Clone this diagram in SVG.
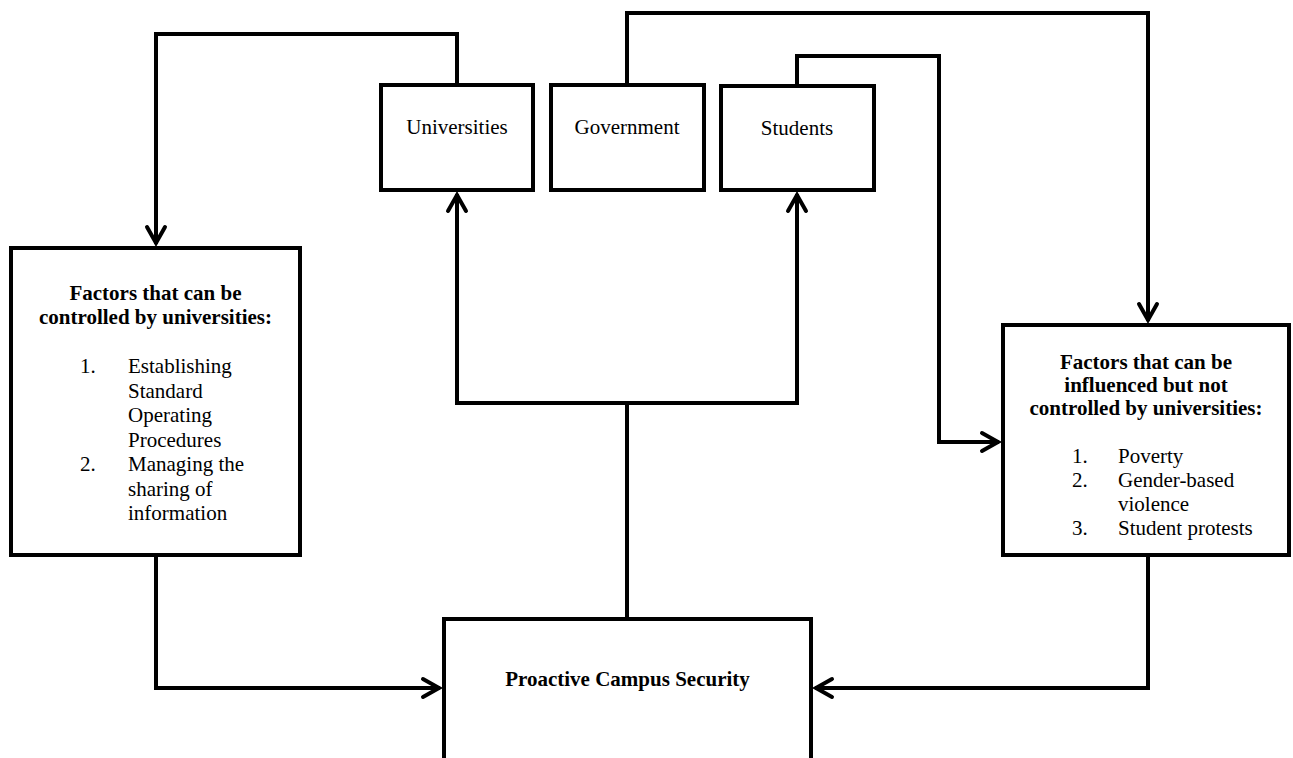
<svg xmlns="http://www.w3.org/2000/svg" width="1293" height="758" viewBox="0 0 1293 758">
<style>
.box{fill:#fff;stroke:#000;stroke-width:4}
.c{fill:none;stroke:#000;stroke-width:4;stroke-linejoin:miter}
.t{font-family:"Liberation Serif","Times New Roman",serif;font-size:21px;fill:#000}
.b{font-weight:bold}
.m{text-anchor:middle}
</style>
<defs>
<marker id="ah" markerUnits="userSpaceOnUse" viewBox="-20 -12 24 24" markerWidth="24" markerHeight="24" refX="0" refY="0" orient="auto">
<path d="M-17,-9 L-1,0 L-17,9" fill="none" stroke="#000" stroke-width="4" stroke-linecap="round"/>
</marker>
</defs>
<rect width="1293" height="758" fill="#fff"/>
<g id="connectors">
<path class="c" d="M457,83 V34 H156 V244" marker-end="url(#ah)"/>
<path class="c" d="M627,83 V13 H1148 V321" marker-end="url(#ah)"/>
<path class="c" d="M797,84 V56 H939 V442 H999" marker-end="url(#ah)"/>
<path class="c" d="M627,617 V403"/>
<path class="c" d="M627,403 H457 V194" marker-end="url(#ah)"/>
<path class="c" d="M627,403 H797 V194" marker-end="url(#ah)"/>
<path class="c" d="M156,557 V688 H440" marker-end="url(#ah)"/>
<path class="c" d="M1148,557 V688 H815" marker-end="url(#ah)"/>
</g>
<g id="universities">
<rect class="box" x="381" y="85" width="152" height="105"/>
<text class="t m" x="457" y="134">Universities</text>
</g>
<g id="government">
<rect class="box" x="551" y="85" width="153" height="105"/>
<text class="t m" x="627" y="134">Government</text>
</g>
<g id="students">
<rect class="box" x="721" y="86" width="153" height="104"/>
<text class="t m" x="797" y="135">Students</text>
</g>
<g id="controlled">
<rect class="box" x="11" y="248" width="289" height="307"/>
<text class="t b m" x="155.5" y="300">Factors that can be</text>
<text class="t b m" x="155.5" y="324">controlled by universities:</text>
<text class="t" x="80" y="373">1.</text>
<text class="t" x="128" y="373">Establishing</text>
<text class="t" x="128" y="397.5">Standard</text>
<text class="t" x="128" y="422">Operating</text>
<text class="t" x="128" y="446.5">Procedures</text>
<text class="t" x="80" y="471">2.</text>
<text class="t" x="128" y="471">Managing the</text>
<text class="t" x="128" y="495.5">sharing of</text>
<text class="t" x="128" y="520">information</text>
</g>
<g id="influenced">
<rect class="box" x="1003" y="325" width="286" height="230"/>
<text class="t b m" x="1146" y="369">Factors that can be</text>
<text class="t b m" x="1146" y="392">influenced but not</text>
<text class="t b m" x="1146" y="415">controlled by universities:</text>
<text class="t" x="1072" y="463">1.</text>
<text class="t" x="1118" y="463">Poverty</text>
<text class="t" x="1072" y="487">2.</text>
<text class="t" x="1118" y="487">Gender-based</text>
<text class="t" x="1118" y="511">violence</text>
<text class="t" x="1072" y="535">3.</text>
<text class="t" x="1118" y="535">Student protests</text>
</g>
<g id="security">
<rect class="box" x="444" y="619" width="367" height="160"/>
<text class="t b m" x="627.5" y="686">Proactive Campus Security</text>
</g>
</svg>
